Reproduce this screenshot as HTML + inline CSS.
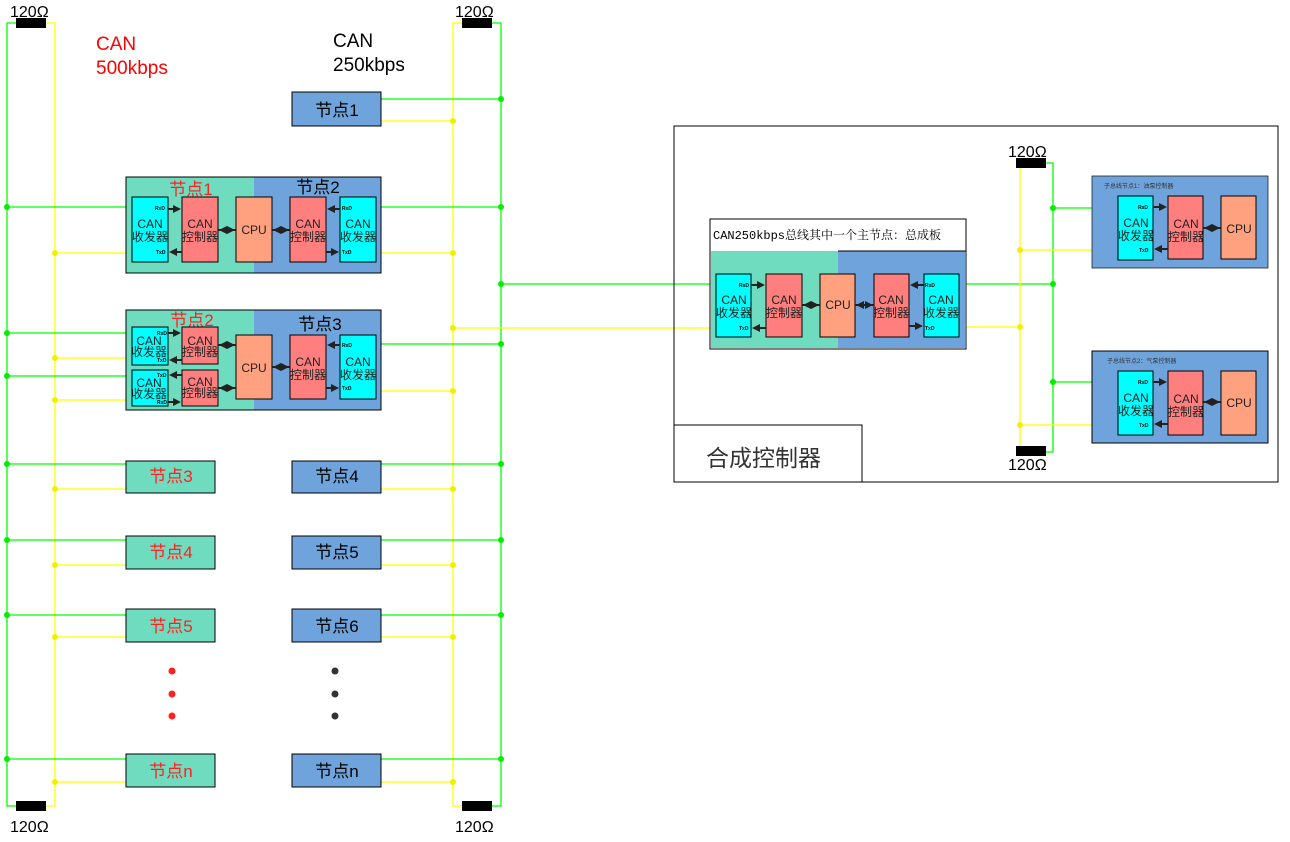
<!DOCTYPE html>
<html><head><meta charset="utf-8"><style>
html,body{margin:0;padding:0;background:#fff;}
svg{display:block;font-family:"Liberation Sans","Noto Sans CJK SC",sans-serif;}
</style></head><body>
<svg width="1290" height="842" viewBox="0 0 1290 842" xmlns="http://www.w3.org/2000/svg">
<defs>
<marker id="ah" markerWidth="4" markerHeight="4" refX="3" refY="2" orient="auto" markerUnits="strokeWidth"><path d="M0,0 L4,2 L0,4 z" fill="#222"/></marker>
</defs>
<g fill="none" stroke-width="1.3">
<path d="M16,23 H7 V806 H16" stroke="#00ff00"/>
<path d="M45,23 H55 V806 H45" stroke="#ffff00"/>
<path d="M462,23 H453 V806 H462" stroke="#ffff00"/>
<path d="M490,23 H501 V806 H490" stroke="#00ff00"/>
<path d="M381,99 H501" stroke="#00ff00"/>
<path d="M381,121 H453" stroke="#ffff00"/>
<path d="M7,207 H132 M375,207 H501" stroke="#00ff00"/>
<path d="M55,253 H132 M375,253 H453" stroke="#ffff00"/>
<path d="M7,333 H132 M7,376 H132 M375,344 H501" stroke="#00ff00"/>
<path d="M55,358 H132 M55,400 H132 M375,391 H453" stroke="#ffff00"/>
<path d="M7,464 H126 M381,464 H501 M7,540 H126 M381,540 H501 M7,615 H126 M381,615 H501 M7,759 H126 M381,759 H501" stroke="#00ff00"/>
<path d="M55,489 H126 M381,489 H453 M55,565 H126 M381,565 H453 M55,637 H126 M381,637 H453 M55,782 H126 M381,782 H453" stroke="#ffff00"/>
<path d="M501,284 H716 M959,284 H1053" stroke="#00ff00"/>
<path d="M453,328 H716 M959,327 H1020" stroke="#ffff00"/>
<path d="M1030,163 H1020 V452 H1030" stroke="#ffff00"/>
<path d="M1035,163 H1053 V452 H1035" stroke="#00ff00"/>
<path d="M1053,208 H1118 M1053,382 H1118" stroke="#00ff00"/>
<path d="M1020,250 H1118 M1020,425 H1118" stroke="#ffff00"/>
</g>
<g fill="#00ee00">
<circle cx="7" cy="207" r="3"/><circle cx="7" cy="333" r="3"/><circle cx="7" cy="376" r="3"/>
<circle cx="7" cy="464" r="3"/><circle cx="7" cy="540" r="3"/><circle cx="7" cy="615" r="3"/><circle cx="7" cy="759" r="3"/>
<circle cx="501" cy="99" r="3"/><circle cx="501" cy="207" r="3"/><circle cx="501" cy="284" r="3"/><circle cx="501" cy="344" r="3"/>
<circle cx="501" cy="464" r="3"/><circle cx="501" cy="540" r="3"/><circle cx="501" cy="615" r="3"/><circle cx="501" cy="759" r="3"/>
<circle cx="1053" cy="208" r="3"/><circle cx="1053" cy="284" r="3"/><circle cx="1053" cy="382" r="3"/>
</g>
<g fill="#f0f000">
<circle cx="55" cy="253" r="3"/><circle cx="55" cy="358" r="3"/><circle cx="55" cy="400" r="3"/>
<circle cx="55" cy="489" r="3"/><circle cx="55" cy="565" r="3"/><circle cx="55" cy="637" r="3"/><circle cx="55" cy="782" r="3"/>
<circle cx="453" cy="121" r="3"/><circle cx="453" cy="253" r="3"/><circle cx="453" cy="328" r="3"/><circle cx="453" cy="391" r="3"/>
<circle cx="453" cy="489" r="3"/><circle cx="453" cy="565" r="3"/><circle cx="453" cy="637" r="3"/><circle cx="453" cy="782" r="3"/>
<circle cx="1020" cy="250" r="3"/><circle cx="1020" cy="327" r="3"/><circle cx="1020" cy="425" r="3"/>
</g>
<g fill="#000">
<rect x="16" y="18" width="30" height="10"/><rect x="462" y="18" width="30" height="10"/>
<rect x="16" y="801" width="30" height="10"/><rect x="462" y="801" width="30" height="10"/>
<rect x="1016" y="158" width="30" height="10"/><rect x="1016" y="446" width="30" height="10"/>
</g>
<g font-size="16" fill="#000">
<text x="10" y="17">120Ω</text><text x="455" y="17">120Ω</text>
<text x="10" y="832">120Ω</text><text x="455" y="832">120Ω</text>
<text x="1008" y="157">120Ω</text><text x="1008" y="470">120Ω</text>
</g>
<g font-size="19">
<text x="96" y="50" fill="#ff0000">CAN</text><text x="96" y="74" fill="#ff0000">500kbps</text>
<text x="333" y="47" fill="#000">CAN</text><text x="333" y="71" fill="#000">250kbps</text>
</g>
<rect x="292" y="92" width="89" height="34" fill="#6fa3db" stroke="#000"/>
<text x="337" y="116" font-size="17" text-anchor="middle">节点1</text>

<rect x="126" y="177" width="128" height="96" fill="#6fdcc0"/>
<rect x="254" y="177" width="127" height="96" fill="#6fa3db"/>
<rect x="126" y="177" width="255" height="96" fill="none" stroke="#000"/>
<text x="191" y="195" font-size="17" fill="#ff2020" text-anchor="middle">节点1</text>
<text x="318" y="193" font-size="17" text-anchor="middle">节点2</text>
<g stroke="#000" stroke-width="1">
<rect x="132" y="197" width="36" height="65" fill="#00ffff"/>
<rect x="182" y="197" width="36" height="65" fill="#ff7f7f"/>
<rect x="236" y="197" width="36" height="65" fill="#ffa07f"/>
<rect x="290" y="197" width="36" height="65" fill="#ff7f7f"/>
<rect x="340" y="197" width="36" height="65" fill="#00ffff"/>
</g>
<g font-size="12" text-anchor="middle" fill="#222">
<text x="150" y="228">CAN</text><text x="150" y="241">收发器</text>
<text x="200" y="228">CAN</text><text x="200" y="241">控制器</text>
<text x="254" y="234">CPU</text>
<text x="308" y="228">CAN</text><text x="308" y="241">控制器</text>
<text x="358" y="228">CAN</text><text x="358" y="241">收发器</text>
</g>
<g font-size="5" font-weight="bold"><text x="155" y="210">RxD</text><text x="156" y="254">TxD</text><text x="342" y="210">RxD</text><text x="342" y="254">TxD</text></g>
<g stroke="#222" stroke-width="2" marker-end="url(#ah)">
<path d="M168,209 H179"/><path d="M182,252 H171"/><path d="M218,230 H233"/><path d="M236,230 H221"/><path d="M272,230 H287"/><path d="M290,230 H275"/>
<path d="M340,209 H329"/><path d="M326,252 H337"/>
</g>

<rect x="126" y="310" width="128" height="100" fill="#6fdcc0"/>
<rect x="254" y="310" width="127" height="100" fill="#6fa3db"/>
<rect x="126" y="310" width="255" height="100" fill="none" stroke="#000"/>
<text x="192" y="326" font-size="17" fill="#ff2020" text-anchor="middle">节点2</text>
<text x="320" y="330" font-size="17" text-anchor="middle">节点3</text>
<g stroke="#000" stroke-width="1">
<rect x="132" y="327" width="36" height="38" fill="#00ffff"/>
<rect x="132" y="370" width="36" height="36" fill="#00ffff"/>
<rect x="182" y="327" width="36" height="37" fill="#ff7f7f"/>
<rect x="182" y="370" width="36" height="36" fill="#ff7f7f"/>
<rect x="236" y="335" width="36" height="64" fill="#ffa07f"/>
<rect x="290" y="335" width="36" height="64" fill="#ff7f7f"/>
<rect x="340" y="335" width="36" height="64" fill="#00ffff"/>
</g>
<g font-size="12" text-anchor="middle" fill="#222">
<text x="149" y="345">CAN</text><text x="149" y="356">收发器</text>
<text x="149" y="387">CAN</text><text x="149" y="398">收发器</text>
<text x="200" y="345">CAN</text><text x="200" y="356">控制器</text>
<text x="200" y="386">CAN</text><text x="200" y="397">控制器</text>
<text x="254" y="372">CPU</text>
<text x="308" y="366">CAN</text><text x="308" y="379">控制器</text>
<text x="358" y="366">CAN</text><text x="358" y="379">收发器</text>
</g>
<g font-size="5" font-weight="bold"><text x="157" y="335">RxD</text><text x="157" y="362">TxD</text><text x="157" y="377">TxD</text><text x="157" y="404">RxD</text><text x="342" y="347">RxD</text><text x="342" y="390">TxD</text></g>
<g stroke="#222" stroke-width="2" marker-end="url(#ah)">
<path d="M168,333 H179"/><path d="M182,360 H171"/><path d="M182,375 H171"/><path d="M168,402 H179"/>
<path d="M218,345 H233"/><path d="M236,345 H221"/><path d="M218,388 H233"/><path d="M236,388 H221"/>
<path d="M272,367 H287"/><path d="M290,367 H275"/>
<path d="M340,345 H329"/><path d="M326,388 H337"/>
</g>

<g stroke="#000" stroke-width="1">
<rect x="126" y="461" width="89" height="32" fill="#6fdcc0"/><rect x="292" y="461" width="89" height="32" fill="#6fa3db"/>
<rect x="126" y="536" width="89" height="33" fill="#6fdcc0"/><rect x="292" y="536" width="89" height="33" fill="#6fa3db"/>
<rect x="126" y="609" width="89" height="33" fill="#6fdcc0"/><rect x="292" y="609" width="89" height="33" fill="#6fa3db"/>
<rect x="126" y="754" width="89" height="33" fill="#6fdcc0"/><rect x="292" y="754" width="89" height="33" fill="#6fa3db"/>
</g>
<g font-size="17" text-anchor="middle">
<text x="171" y="482" fill="#ff2020">节点3</text><text x="337" y="482">节点4</text>
<text x="171" y="558" fill="#ff2020">节点4</text><text x="337" y="558">节点5</text>
<text x="171" y="632" fill="#ff2020">节点5</text><text x="337" y="632">节点6</text>
<text x="171" y="777" fill="#ff2020">节点n</text><text x="337" y="777">节点n</text>
</g>
<g fill="#ff2020"><circle cx="172" cy="671" r="3.5"/><circle cx="172" cy="694" r="3.5"/><circle cx="172" cy="716" r="3.5"/></g>
<g fill="#333"><circle cx="335" cy="671" r="3.5"/><circle cx="335" cy="694" r="3.5"/><circle cx="335" cy="716" r="3.5"/></g>

<rect x="674" y="126" width="604" height="356" fill="none" stroke="#000"/>
<path d="M674,425 H862 V482" fill="none" stroke="#000"/>
<text x="706" y="466" font-size="23" fill="#333">合成控制器</text>

<rect x="710" y="219" width="256" height="130" fill="#fff" stroke="#000"/>
<rect x="711" y="251" width="127" height="97" fill="#6fdcc0"/>
<rect x="838" y="251" width="127" height="97" fill="#6fa3db"/>
<path d="M838,251 H966" stroke="#000"/>
<text x="713" y="239" font-size="12" font-family="'Liberation Mono','Noto Serif CJK SC',serif">CAN250kbps总线其中一个主节点：总成板</text>
<g stroke="#000" stroke-width="1">
<rect x="716" y="274" width="35" height="63" fill="#00ffff"/>
<rect x="766" y="274" width="36" height="63" fill="#ff7f7f"/>
<rect x="820" y="274" width="35" height="63" fill="#ffa07f"/>
<rect x="874" y="274" width="35" height="63" fill="#ff7f7f"/>
<rect x="924" y="274" width="35" height="63" fill="#00ffff"/>
</g>
<g font-size="12" text-anchor="middle" fill="#222">
<text x="734" y="304">CAN</text><text x="734" y="317">收发器</text>
<text x="784" y="304">CAN</text><text x="784" y="317">控制器</text>
<text x="838" y="309">CPU</text>
<text x="891" y="304">CAN</text><text x="891" y="317">控制器</text>
<text x="941" y="304">CAN</text><text x="941" y="317">收发器</text>
</g>
<g font-size="5" font-weight="bold"><text x="739" y="287">RxD</text><text x="739" y="330">TxD</text><text x="925" y="287">RxD</text><text x="925" y="330">TxD</text></g>
<g stroke="#222" stroke-width="2" marker-end="url(#ah)">
<path d="M751,285 H763"/><path d="M766,328 H754"/><path d="M802,305 H817"/><path d="M820,305 H805"/><path d="M855,305 H871"/><path d="M874,305 H858"/>
<path d="M924,285 H912"/><path d="M909,326 H921"/>
</g>

<rect x="1092" y="176" width="176" height="92" fill="#6fa3db" stroke="#222" stroke-width="0.8"/>
<rect x="1092" y="351" width="176" height="92" fill="#6fa3db" stroke="#000" stroke-width="1"/>
<text x="1104" y="188" font-size="6" fill="#333">子总线节点1：油泵控制器</text>
<text x="1107" y="363" font-size="6" fill="#333">子总线节点2：气泵控制器</text>
<g stroke="#000" stroke-width="1">
<rect x="1118" y="196" width="35" height="64" fill="#00ffff"/>
<rect x="1168" y="196" width="35" height="63" fill="#ff7f7f"/>
<rect x="1221" y="196" width="35" height="63" fill="#ffa07f"/>
<rect x="1118" y="371" width="35" height="64" fill="#00ffff"/>
<rect x="1168" y="371" width="35" height="64" fill="#ff7f7f"/>
<rect x="1221" y="371" width="35" height="64" fill="#ffa07f"/>
</g>
<g font-size="12" text-anchor="middle" fill="#222">
<text x="1136" y="227">CAN</text><text x="1136" y="240">收发器</text>
<text x="1186" y="228">CAN</text><text x="1186" y="241">控制器</text>
<text x="1239" y="233">CPU</text>
<text x="1136" y="402">CAN</text><text x="1136" y="415">收发器</text>
<text x="1186" y="403">CAN</text><text x="1186" y="416">控制器</text>
<text x="1239" y="407">CPU</text>
</g>
<g font-size="5" font-weight="bold"><text x="1138" y="209">RxD</text><text x="1139" y="252">TxD</text><text x="1138" y="384">RxD</text><text x="1139" y="427">TxD</text></g>
<g stroke="#222" stroke-width="2" marker-end="url(#ah)">
<path d="M1153,207 H1165"/><path d="M1168,249 H1156"/><path d="M1203,228 H1218"/><path d="M1221,228 H1206"/>
<path d="M1153,382 H1165"/><path d="M1168,424 H1156"/><path d="M1203,402 H1218"/><path d="M1221,402 H1206"/>
</g>
</svg>
</body></html>
